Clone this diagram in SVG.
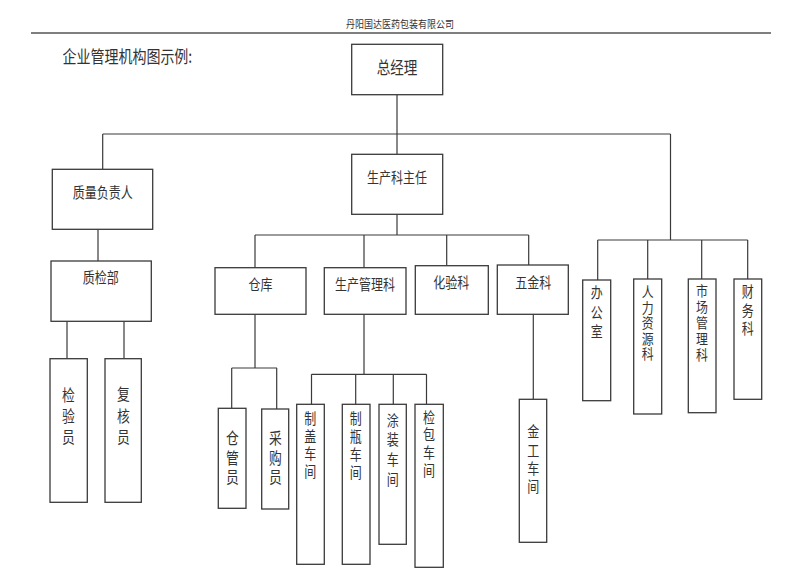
<svg xmlns="http://www.w3.org/2000/svg" width="800" height="576" viewBox="0 0 800 576">
<style>
.bg{fill:#fff}
.box{fill:#fff;stroke:#3a3a3a;stroke-width:1.3}
.con{fill:none;stroke:#3a3a3a;stroke-width:1.2}
text{font-family:"Noto Sans CJK SC","Noto Sans",sans-serif;fill:#333;text-anchor:middle;dominant-baseline:central}
.lb{font-size:15px}
.vt{writing-mode:vertical-rl;text-anchor:start;font-size:15px}
.hdr{font-size:10px}
.ttl{font-size:17.5px;text-anchor:start}
</style>
<rect class="bg" x="0" y="0" width="800" height="576"/>
<g id="header">
<text class="hdr" transform="translate(400,24) scale(0.9,1)">丹阳国达医药包装有限公司</text>
<line x1="31" y1="33" x2="771" y2="33" stroke="#555" stroke-width="1.3"/>
<text class="ttl" transform="translate(62.5,55.5) scale(0.8,1)">企业管理机构图示例:</text>
</g>
<g id="connectors" class="con">
<path d="M397,95V134M102.7,134H670.5M102.7,134V169.3M397,134V154.3M670.5,134V240"/>
<path d="M98,229.3V261M67,321.3V358.7M124,321.3V358.7"/>
<path d="M397,214.3V235M255,235H528.7M255,235V267.7M364,235V267.7M446.7,235V265.7M528.7,235V265"/>
<path d="M255,314.3V368M231.7,368H277M231.7,368V408.3M276.7,368V409"/>
<path d="M364,314.3V374.3M311.5,374.3H426.5M311.5,374.3V404.3M355.7,374.3V404.3M393.3,374.3V404.3M426.5,374.3V404.3"/>
<path d="M533.3,314.3V399.3"/>
<path d="M597.7,240H747.7M597.7,240V280M647.7,240V279M701.7,240V279M747.7,240V279"/>
</g>
<g id="n-zjl"><rect class="box" x="351.7" y="44.3" width="91" height="50.4"/><text class="lb" style="font-size:17px" transform="translate(397,66.7) scale(0.8,1)">总经理</text></g>
<g id="n-zlfzr"><rect class="box" x="52.3" y="169.3" width="100.4" height="60"/><text class="lb" transform="translate(102.7,191) scale(0.8,1)">质量负责人</text></g>
<g id="n-scke"><rect class="box" x="351.7" y="154.3" width="91" height="60"/><text class="lb" transform="translate(397,176.7) scale(0.8,1)">生产科主任</text></g>
<g id="n-zjb"><rect class="box" x="51" y="261" width="100.3" height="60.3"/><text class="lb" transform="translate(100.7,276.7) scale(0.8,1)">质检部</text></g>
<g id="n-jyy"><rect class="box" x="50" y="358.7" width="37.3" height="143.6"/><text class="vt" style="font-size:16px;letter-spacing:5px" transform="translate(68.3,0) scale(0.8,1)" x="0" y="387">检验员</text></g>
<g id="n-fhy"><rect class="box" x="105" y="358.7" width="36.3" height="143.6"/><text class="vt" style="font-size:16px;letter-spacing:5.5px" transform="translate(123.3,0) scale(0.8,1)" x="0" y="386">复核员</text></g>
<g id="n-ck"><rect class="box" x="215" y="267.7" width="91" height="46.6"/><text class="lb" transform="translate(260.4,283.3) scale(0.8,1)">仓库</text></g>
<g id="n-scglk"><rect class="box" x="324.3" y="267.7" width="81.7" height="46.6"/><text class="lb" transform="translate(365,283.3) scale(0.8,1)">生产管理科</text></g>
<g id="n-hyk"><rect class="box" x="415.3" y="265.7" width="73" height="48.6"/><text class="lb" transform="translate(451.3,281.7) scale(0.8,1)">化验科</text></g>
<g id="n-wjk"><rect class="box" x="497.3" y="265" width="71" height="49.3"/><text class="lb" transform="translate(533.2,281) scale(0.8,1)">五金科</text></g>
<g id="n-cgy"><rect class="box" x="218.3" y="408.3" width="27.7" height="100"/><text class="vt" style="font-size:16px;letter-spacing:3.3px" transform="translate(232.3,0) scale(0.8,1)" x="0" y="430.3">仓管员</text></g>
<g id="n-cgy2"><rect class="box" x="261.7" y="409" width="27" height="100"/><text class="vt" style="font-size:16px;letter-spacing:3.3px" transform="translate(275.3,0) scale(0.8,1)" x="0" y="430.3">采购员</text></g>
<g id="n-zgcj"><rect class="box" x="296.7" y="404.3" width="27.6" height="160"/><text class="vt" style="letter-spacing:2.5px" transform="translate(310.3,0) scale(0.8,1)" x="0" y="411">制盖车间</text></g>
<g id="n-zpcj"><rect class="box" x="342.3" y="404.3" width="27.7" height="160"/><text class="vt" style="letter-spacing:2.8px" transform="translate(355.7,0) scale(0.8,1)" x="0" y="411">制瓶车间</text></g>
<g id="n-tzcj"><rect class="box" x="379" y="404.3" width="27.3" height="140"/><text class="vt" style="letter-spacing:4.7px" transform="translate(392.7,0) scale(0.8,1)" x="0" y="412.5">涂装车间</text></g>
<g id="n-jbcj"><rect class="box" x="415" y="404.3" width="28.3" height="163"/><text class="vt" style="letter-spacing:2.7px" transform="translate(429,0) scale(0.8,1)" x="0" y="409.5">检包车间</text></g>
<g id="n-jgcj"><rect class="box" x="519.3" y="399.3" width="27.4" height="143"/><text class="vt" style="letter-spacing:3.3px" transform="translate(533.3,0) scale(0.8,1)" x="0" y="424.2">金工车间</text></g>
<g id="n-bgs"><rect class="box" x="582.7" y="280" width="28" height="120.7"/><text class="vt" style="letter-spacing:4.5px" transform="translate(596.7,0) scale(0.8,1)" x="0" y="285.2">办公室</text></g>
<g id="n-rlzyk"><rect class="box" x="633.7" y="279" width="28" height="135"/><text class="vt" style="font-size:14px;letter-spacing:1.6px" transform="translate(647.7,0) scale(0.85,1)" x="0" y="284.7">人力资源科</text></g>
<g id="n-scglk2"><rect class="box" x="688.3" y="279" width="27.7" height="133.7"/><text class="vt" style="font-size:14px;letter-spacing:2.1px" transform="translate(702,0) scale(0.85,1)" x="0" y="283.7">市场管理科</text></g>
<g id="n-cwk"><rect class="box" x="734" y="279" width="27.7" height="120.3"/><text class="vt" style="letter-spacing:3.3px" transform="translate(747.7,0) scale(0.8,1)" x="0" y="284.2">财务科</text></g>
</svg>
